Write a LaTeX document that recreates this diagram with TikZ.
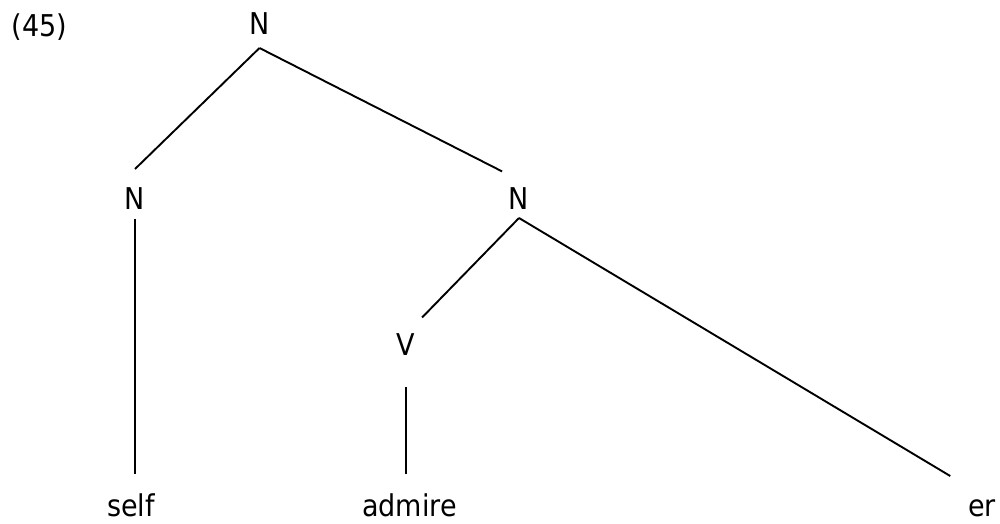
\documentclass[tikz,border=0pt]{standalone}
\usepackage{fontspec}
\setmainfont{DejaVu Sans Condensed}
\begin{document}
\begin{tikzpicture}[x=1pt,y=-1pt,
  lbl/.style={font=\fontsize{30}{35}\selectfont, inner sep=0pt, outer sep=0pt,
              text height=21pt, text depth=0pt, anchor=base},
  edge/.style={line width=1.9pt, line cap=butt}]
\useasboundingbox (0,0) rectangle (1000,523);
\node[lbl, anchor=base west] (ex) at (12,36) {(45)};
\node[lbl] (top) at (259.5,34) {N};
\node[lbl] (nl) at (135,209) {N};
\node[lbl] (nr) at (519,209) {N};
\node[lbl] (v) at (406,355) {V};
\node[lbl] (self) at (131,516) {self};
\node[lbl] (admire) at (409.5,516) {admire};
\node[lbl] (er) at (982,516) {er};
\coordinate (topap) at ([yshift=-14pt]top.south);
\coordinate (nrap) at ([yshift=-9pt]nr.south);
\coordinate (nlb) at ([yshift=-10pt]nl.south);
\coordinate (vb) at ([yshift=-32pt]v.south);
\draw[edge] (topap) -- ([yshift=19pt]nl.north);
\draw[edge, shorten >=19pt] (topap) -- ([yshift=8pt]nr.north);
\draw[edge, shorten >=21pt] (nlb) -- (nlb |- self.north);
\draw[edge, shorten >=23pt] (nrap) -- (v.north);
\draw[edge, shorten >=37pt] (nrap) -- (er.north);
\draw[edge, shorten >=21pt] (vb) -- (vb |- admire.north);
\end{tikzpicture}
\end{document}
